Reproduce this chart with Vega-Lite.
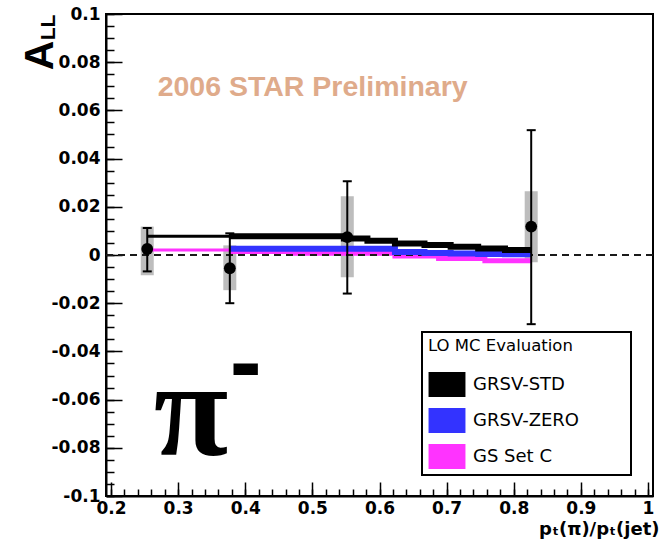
{
  "$schema": "https://vega.github.io/schema/vega-lite/v6.json",
  "width": 547,
  "height": 482,
  "autosize": {"type": "none"},
  "padding": {"left": 106, "top": 14, "right": 8, "bottom": 47},
  "background": "white",
  "config": {
    "view": {"stroke": "black", "strokeWidth": 2},
    "font": "DejaVu Sans",
    "axis": {
      "grid": false,
      "domainColor": "black",
      "domainWidth": 2,
      "tickColor": "black",
      "tickWidth": 1.5,
      "labelColor": "black",
      "labelFont": "DejaVu Sans",
      "labelFontWeight": "bold",
      "labelFontSize": 17,
      "labelOverlap": false,
      "labelFlush": false,
      "titleColor": "black"
    }
  },
  "datasets": {
    "asym": [
      {"x": 0.254, "y": 0.0025, "stat_lo": -0.0068, "stat_hi": 0.0112, "sys_lo": -0.0084, "sys_hi": 0.0118},
      {"x": 0.377, "y": -0.0055, "stat_lo": -0.0200, "stat_hi": 0.0090, "sys_lo": -0.0146, "sys_hi": 0.0040},
      {"x": 0.552, "y": 0.0074, "stat_lo": -0.0160, "stat_hi": 0.0306, "sys_lo": -0.0092, "sys_hi": 0.0244},
      {"x": 0.826, "y": 0.0118, "stat_lo": -0.0287, "stat_hi": 0.0518, "sys_lo": -0.0030, "sys_hi": 0.0265}
    ],
    "theory": [
      {"model": "GS Set C", "x": 0.254, "all": 0.0021},
      {"model": "GS Set C", "x": 0.377, "all": 0.0015},
      {"model": "GS Set C", "x": 0.465, "all": 0.0007},
      {"model": "GS Set C", "x": 0.623, "all": -0.0004},
      {"model": "GS Set C", "x": 0.688, "all": -0.0015},
      {"model": "GS Set C", "x": 0.757, "all": -0.0024},
      {"model": "GS Set C", "x": 0.827, "all": -0.0024},
      {"model": "GRSV-ZERO", "x": 0.377, "all": 0.0026},
      {"model": "GRSV-ZERO", "x": 0.623, "all": 0.0012},
      {"model": "GRSV-ZERO", "x": 0.667, "all": 0.0008},
      {"model": "GRSV-ZERO", "x": 0.706, "all": 0.0006},
      {"model": "GRSV-ZERO", "x": 0.747, "all": 0.0004},
      {"model": "GRSV-ZERO", "x": 0.787, "all": 0.0003},
      {"model": "GRSV-ZERO", "x": 0.827, "all": 0.0003},
      {"model": "GRSV-STD", "x": 0.254, "all": 0.0078},
      {"model": "GRSV-STD", "x": 0.377, "all": 0.0078},
      {"model": "GRSV-STD", "x": 0.547, "all": 0.0068},
      {"model": "GRSV-STD", "x": 0.582, "all": 0.0059},
      {"model": "GRSV-STD", "x": 0.623, "all": 0.0048},
      {"model": "GRSV-STD", "x": 0.667, "all": 0.0041},
      {"model": "GRSV-STD", "x": 0.706, "all": 0.0034},
      {"model": "GRSV-STD", "x": 0.747, "all": 0.0027},
      {"model": "GRSV-STD", "x": 0.787, "all": 0.0021},
      {"model": "GRSV-STD", "x": 0.827, "all": 0.0021}
    ]
  },
  "resolve": {"axis": {"x": "independent", "y": "independent"}},
  "layer": [
    {
      "data": {"name": "asym"},
      "mark": {"type": "bar", "color": "#bdbdbd", "size": 13, "opacity": 1},
      "encoding": {
        "x": {
          "field": "x", "type": "quantitative",
          "scale": {"domain": [0.2, 1], "nice": false, "zero": false},
          "axis": {
            "orient": "bottom",
            "values": [0.2, 0.3, 0.4, 0.5, 0.6, 0.7, 0.8, 0.9, 1],
            "tickSize": -14,
            "labelPadding": 18,
            "labelExpr": "format(datum.value, '.1~f')",
            "title": "pₜ(π)/pₜ(jet)",
            "titleFont": "DejaVu Sans",
            "titleFontWeight": "bold",
            "titleFontSize": 18,
            "titleX": 553,
            "titleY": 38,
            "titleAlign": "right",
            "titleBaseline": "alphabetic",
            "titleAngle": 0
          }
        },
        "y": {
          "field": "sys_lo", "type": "quantitative",
          "scale": {"domain": [-0.1, 0.1], "nice": false, "zero": false},
          "axis": {
            "orient": "left",
            "values": [-0.1, -0.08, -0.06, -0.04, -0.02, 0, 0.02, 0.04, 0.06, 0.08, 0.1],
            "tickSize": -16,
            "labelPadding": 22,
            "labelExpr": "replace(format(datum.value, '.2~f'), '\u2212', '-')",
            "title": "A",
            "titleFont": "Liberation Sans",
            "titleFontWeight": "bold",
            "titleFontSize": 41,
            "titleAngle": 270,
            "titleX": -54,
            "titleY": 41,
            "titleAlign": "center",
            "titleBaseline": "alphabetic"
          }
        },
        "y2": {"field": "sys_hi"}
      }
    },
    {
      "data": {"name": "theory"},
      "transform": [{"filter": "datum.x <= 0.378"}],
      "mark": {"type": "line", "interpolate": "step-after", "strokeWidth": 3, "opacity": 1},
      "encoding": {
        "x": {"field": "x", "type": "quantitative", "axis": null},
        "y": {"field": "all", "type": "quantitative", "axis": null},
        "color": {
          "field": "model", "type": "nominal",
          "scale": {"domain": ["GRSV-STD", "GRSV-ZERO", "GS Set C"], "range": ["#000000", "#3333ff", "#ff33ff"]},
          "legend": {
            "orient": "none",
            "legendX": 316,
            "legendY": 318,
            "title": "LO MC Evaluation",
            "titleFont": "DejaVu Sans",
            "titleFontSize": 16.5,
            "titleFontWeight": "normal",
            "titleColor": "black",
            "titlePadding": 17,
            "labelFont": "DejaVu Sans",
            "labelFontSize": 18,
            "labelColor": "black",
            "labelLimit": 300,
            "labelExpr": "datum.label + '\u00a0\u00a0\u00a0\u00a0\u00a0\u00a0\u00a0\u00a0\u200b'",
            "symbolType": "M-1.42,-0.96H1.42V0.96H-1.42Z",
            "symbolSize": 676,
            "symbolStrokeWidth": 0,
            "symbolOpacity": 1,
            "symbolOffset": 6,
            "labelOffset": 13,
            "rowPadding": 10,
            "padding": 6,
            "strokeColor": "black",
            "fillColor": "white",
            "encode": {
              "legend": {"update": {"strokeWidth": {"value": 2}}},
              "symbols": {"update": {"fill": {"scale": "color", "field": "value"}, "stroke": {"value": "transparent"}}}
            }
          }
        }
      }
    },
    {
      "data": {"name": "theory"},
      "transform": [{"filter": "datum.x >= 0.376 && datum.model == 'GS Set C'"}],
      "mark": {"type": "line", "interpolate": "step-after", "strokeWidth": 5, "opacity": 1},
      "encoding": {
        "x": {"field": "x", "type": "quantitative", "axis": null},
        "y": {"field": "all", "type": "quantitative", "axis": null},
        "color": {"field": "model", "type": "nominal", "legend": null}
      }
    },
    {
      "data": {"values": [{}]},
      "mark": {"type": "rule", "strokeDash": [7, 5], "strokeWidth": 1.8, "color": "#1a1a1a"},
      "encoding": {"y": {"datum": 0, "type": "quantitative", "axis": null}}
    },
    {
      "data": {"name": "theory"},
      "transform": [{"filter": "datum.x >= 0.376 && datum.model != 'GS Set C'"}],
      "mark": {"type": "line", "interpolate": "step-after", "strokeWidth": 6, "opacity": 1},
      "encoding": {
        "x": {"field": "x", "type": "quantitative", "axis": null},
        "y": {"field": "all", "type": "quantitative", "axis": null},
        "color": {"field": "model", "type": "nominal", "legend": null},
        "order": {"field": "model", "sort": "descending"}
      }
    },
    {
      "data": {"name": "asym"},
      "mark": {"type": "rule", "color": "black", "strokeWidth": 2},
      "encoding": {
        "x": {"field": "x", "type": "quantitative", "axis": null},
        "y": {"field": "stat_lo", "type": "quantitative", "axis": null},
        "y2": {"field": "stat_hi"}
      }
    },
    {
      "data": {"name": "asym"},
      "mark": {"type": "tick", "orient": "horizontal", "color": "black", "size": 9, "thickness": 2, "opacity": 1},
      "encoding": {
        "x": {"field": "x", "type": "quantitative", "axis": null},
        "y": {"field": "stat_lo", "type": "quantitative", "axis": null}
      }
    },
    {
      "data": {"name": "asym"},
      "mark": {"type": "tick", "orient": "horizontal", "color": "black", "size": 9, "thickness": 2, "opacity": 1},
      "encoding": {
        "x": {"field": "x", "type": "quantitative", "axis": null},
        "y": {"field": "stat_hi", "type": "quantitative", "axis": null}
      }
    },
    {
      "data": {"name": "asym"},
      "mark": {"type": "point", "shape": "circle", "filled": true, "color": "black", "size": 140, "opacity": 1},
      "encoding": {
        "x": {
          "field": "x", "type": "quantitative",
          "scale": {"domain": [0.2, 1], "nice": false, "zero": false},
          "axis": {
            "orient": "bottom",
            "values": [0.2, 0.22, 0.24, 0.26, 0.28, 0.3, 0.32, 0.34, 0.36, 0.38, 0.4, 0.42, 0.44, 0.46, 0.48, 0.5, 0.52, 0.54, 0.56, 0.58, 0.6, 0.62, 0.64, 0.66, 0.68, 0.7, 0.72, 0.74, 0.76, 0.78, 0.8, 0.82, 0.84, 0.86, 0.88, 0.9, 0.92, 0.94, 0.96, 0.98, 1],
            "tickSize": -7,
            "labels": false,
            "domain": false,
            "title": null
          }
        },
        "y": {
          "field": "y", "type": "quantitative",
          "scale": {"domain": [-0.1, 0.1], "nice": false, "zero": false},
          "axis": {
            "orient": "left",
            "values": [-0.1, -0.095, -0.09, -0.085, -0.08, -0.075, -0.07, -0.065, -0.06, -0.055, -0.05, -0.045, -0.04, -0.035, -0.03, -0.025, -0.02, -0.015, -0.01, -0.005, 0, 0.005, 0.01, 0.015, 0.02, 0.025, 0.03, 0.035, 0.04, 0.045, 0.05, 0.055, 0.06, 0.065, 0.07, 0.075, 0.08, 0.085, 0.09, 0.095, 0.1],
            "tickSize": -8,
            "labels": false,
            "domain": false,
            "title": "LL",
            "titleFont": "Liberation Sans",
            "titleFontWeight": "bold",
            "titleFontSize": 21,
            "titleAngle": 270,
            "titleX": -52,
            "titleY": 13,
            "titleAlign": "center",
            "titleBaseline": "alphabetic"
          }
        }
      }
    },
    {
      "data": {"values": [{}]},
      "mark": {"type": "text", "text": "2006 STAR Preliminary", "font": "Liberation Sans", "fontWeight": "bold", "fontSize": 28.5, "color": "#dfab8b", "align": "left", "baseline": "alphabetic"},
      "encoding": {
        "x": {"datum": 0.2695, "type": "quantitative", "axis": null},
        "y": {"datum": 0.0659, "type": "quantitative", "axis": null}
      }
    },
    {
      "data": {"values": [{}]},
      "mark": {"type": "text", "text": "π", "font": "Liberation Serif", "fontWeight": "bold", "fontSize": 136, "color": "black", "align": "left", "baseline": "alphabetic"},
      "encoding": {
        "x": {"datum": 0.2636, "type": "quantitative", "axis": null},
        "y": {"datum": -0.0831, "type": "quantitative", "axis": null}
      }
    },
    {
      "data": {"values": [{}]},
      "mark": {"type": "text", "text": "-", "font": "Liberation Sans", "fontWeight": "bold", "fontSize": 96, "color": "black", "align": "left", "baseline": "alphabetic"},
      "encoding": {
        "x": {"datum": 0.377, "type": "quantitative", "axis": null},
        "y": {"datum": -0.0578, "type": "quantitative", "axis": null}
      }
    }
  ]
}
